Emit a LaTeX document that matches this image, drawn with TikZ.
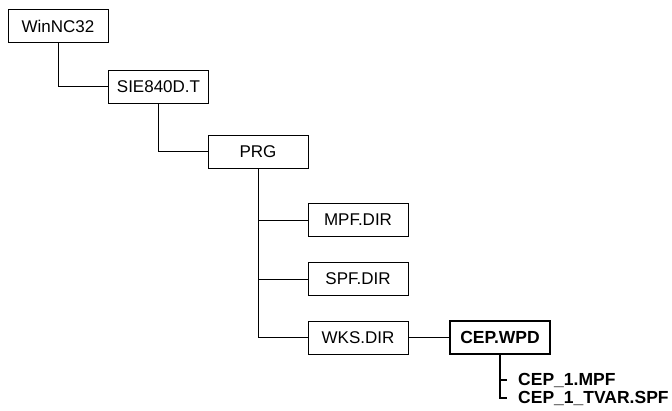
\documentclass[tikz,border=0pt]{standalone}
\usepackage{fontspec}
\setmainfont{Liberation Sans}
\usepackage{tikz}

\begin{document}
\begin{tikzpicture}[
  x=1pt, y=-1pt,
  dnode/.style={draw, line width=0.9pt, minimum width=100pt, minimum height=33pt, inner sep=0pt, font=\fontsize{17}{19}\selectfont},
  wnode/.style={draw, line width=1.8pt, minimum width=100pt, minimum height=33pt, inner sep=0pt, font=\fontsize{17.5}{19}\selectfont\bfseries},
  fnode/.style={anchor=west, inner xsep=11pt, inner ysep=0pt, font=\fontsize{17.5}{19}\selectfont\bfseries},
  link/.style={line width=0.9pt},
  tlink/.style={line width=1.8pt}
]
\useasboundingbox (0,0) rectangle (672,410);

\node[dnode] (win) at (58,26) {WinNC32};
\node[dnode] (sie) at (158.5,86.5) {SIE840D.T};
\node[dnode] (prg) at (258,151.5) {PRG};
\node[dnode] (mpf) at (358,220) {MPF.DIR};
\node[dnode] (spf) at (358,279) {SPF.DIR};
\node[dnode] (wks) at (358,337.5) {WKS.DIR};
\node[wnode] (cep) at (500,337.5) {CEP.WPD};
\node[fnode] (mpffile) at (507,380) {CEP\_1.MPF};
\node[fnode] (spffile) at (507,398) {CEP\_1\_TVAR.SPF};

\draw[link] (win.south) |- (sie.west);
\draw[link] (sie.south) |- (prg.west);
\draw[link] (prg.south) |- (mpf.west);
\draw[link] (prg.south) |- (spf.west);
\draw[link] (prg.south) |- (wks.west);
\draw[tlink] (wks.east) -- (cep.west);
\draw[tlink] (cep.south) |- (spffile.west);
\draw[tlink] (cep.south |- mpffile.west) -- (mpffile.west);
\end{tikzpicture}
\end{document}
